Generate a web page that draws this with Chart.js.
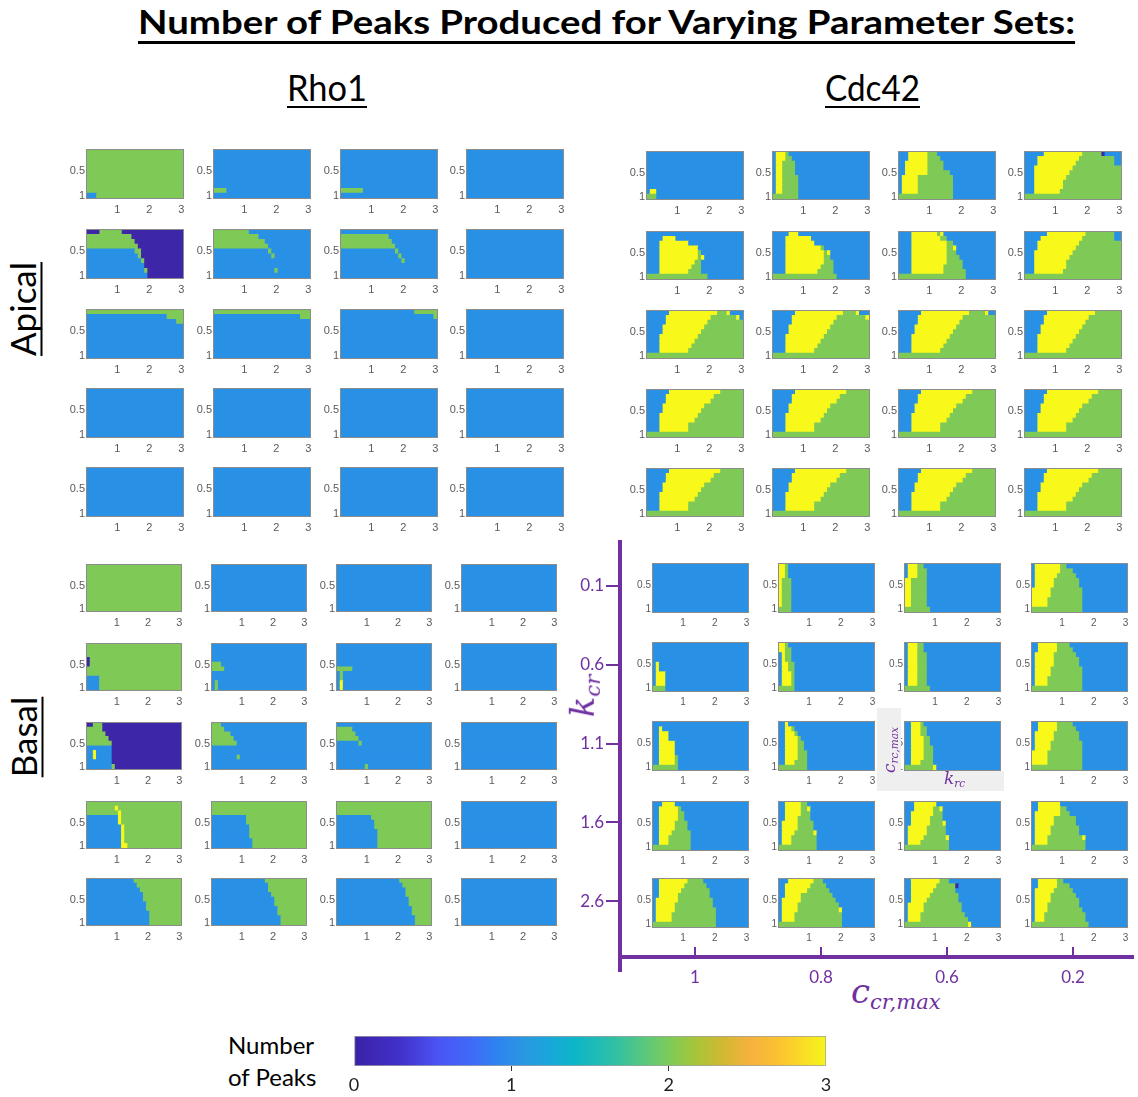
<!DOCTYPE html>
<html>
<head>
<meta charset="utf-8">
<title>Number of Peaks Produced for Varying Parameter Sets</title>
<script src="https://cdn.jsdelivr.net/npm/chart.js@4.4.1/dist/chart.umd.min.js"></script>
<style>
  html, body { margin: 0; padding: 0; background: #fff; }
  body { position: relative; width: 1138px; height: 1097px; overflow: hidden; }
  canvas { position: absolute; }
  .t { position: absolute; white-space: nowrap; line-height: 1; color: #000; font-family: Lato, sans-serif; }
  .head { font-weight: 700; font-size: 33px; text-decoration: underline; text-decoration-thickness: 3px;
          text-underline-offset: 7px; text-decoration-skip-ink: none; }
  .sub { font-size: 36px; text-decoration: underline; text-decoration-thickness: 2px;
         text-underline-offset: 5px; text-decoration-skip-ink: none; }
  .rot { transform: translate(-50%, -50%) rotate(-90deg); }
  .purple { color: #7030a0; font-family: "DejaVu Serif", serif; font-style: italic; }
  .purple sub { font-size: 62%; vertical-align: -0.3em; }
  .inset { position: absolute; background: #efefef; z-index: 2; }
</style>
</head>
<body>
<div class="t head" id="title" style="left:138px; top:5px">Number of Peaks Produced for Varying Parameter Sets:</div>
<div class="t sub" id="rho" style="left:287px; top:69px">Rho1</div>
<div class="t sub" id="cdc" style="left:825px; top:69px">Cdc42</div>
<div class="t sub rot" style="left:22px; top:309px; font-size:35px">Apical</div>
<div class="t sub rot" style="left:23px; top:737px; font-size:35px">Basal</div>

<div class="t" style="left:228px; top:1033px; font-size:24px">Number</div>
<div class="t" style="left:228px; top:1065px; font-size:24px">of Peaks</div>

<div class="t purple rot" style="left:584px; top:696px; font-size:34px; z-index:3">k<sub>cr</sub></div>
<div class="t purple" style="left:851px; top:974px; font-size:34px">c<sub>cr,max</sub></div>

<div class="inset" style="left:877px; top:708px; width:24px; height:83px"></div>
<div class="inset" style="left:877px; top:771px; width:127px; height:20px"></div>
<div class="t purple rot" style="left:890px; top:750px; font-size:17px; z-index:3">c<sub>rc,max</sub></div>
<div class="t purple" style="left:944px; top:770px; font-size:17px; z-index:3">k<sub>rc</sub></div>

<script>
// Each panel: 10 rows (k = 0.1 .. 1.0, top to bottom) x 30 columns (c = 0.1 .. 3.0).
// Rows are run-length coded: P=0, B=1, G=2, Y=3 peaks; '/' separates rows, '*n' repeats a row.
const rho1Apical = [
  'G30*9/B3G27', 'B30*8/G4B26/B30', 'B30*8/G7B23/B30', 'B30*10',
  'P4G7P19/G14P16/G15P15/G16P14/B15G2P13/B16G1P13/B17G1P12/B18P12/B18G1P11/B19P11',
  'G11B19/G14B16/G16B14/G17B13/B17G1B12/B18G1B11/B30*2/B19G1B10/B30',
  'B30/G15B15/G16B14/G17B13/B17G1B12/B18G1B11/B19G1B10/B30*3',
  'B30*10',
  'G30/B25G5/B28G2/B30*7', 'G30/B27G3/B30*8', 'B23G7/B29G1/B30*8', 'B30*10',
  'B30*10', 'B30*10', 'B30*10', 'B30*10',
  'B30*10', 'B30*10', 'B30*10', 'B30*10'
];

const rho1Basal = [
  'G30*10', 'B30*10', 'B30*10', 'B30*10',
  'G30*3/P1G29*2/G30*2/B4G26*3', 'B30*4/G3B27/G4B26/B30*2/B1G1B28*2',
  'B30*5/G5B25/B1G1B28*2/B1Y1B28*2', 'B30*10',
  'P2G3P25/G5P25/G6P24/G7P23/G8P22/B8P22/B2Y1B5P22*2/B8P22/B8G1P21',
  'G3B27/G4B26/G6B24/G7B23/G8B22/B30*2/B8G1B21/B30*2',
  'B30/G5B25/G6B24/G7B23/B7G1B22/B30*4/B9G1B20', 'B30*10',
  'G30/G9Y1G20/G10Y1G19/B10Y1G19*2/B11Y1G18*4/B11Y2G17',
  'G30*3/B11G19*2/B12G18*3/B13G17*2', 'G30*3/B11G19/B12G18*2/B13G17*4', 'B30*10',
  'B15G15/B16G14/B17G13/B18G12*2/B19G11*2/B20G10*3',
  'B17G13/B18G12*2/B19G11/B20G10*2/B21G9*2/B22G8*2',
  'B20G10/B21G9/B22G8*2/B23G7*2/B24G6*2/B25G5*2', 'B30*10'
];

const cdc42Apical = [
  'B30*8/B1Y2B27/G3B27',
  'B1Y3G1B25/B1Y3G2B24/B1Y2G4B23*3/B1Y2G5B22*4/G8B22',
  'B3Y6G3B18/B3Y6G4B17/B2Y7G5B16*2/B2Y7G7B14/B1Y5G11B13*4/G17B13',
  'B6Y12G6P1B5/B4Y13G11B2/B4Y12G12B2/B3Y12G15/B3Y11G16/B3Y10G17/B3Y9G18*2/B3Y8G19/G30',
  'B30/B5Y4B21/B4Y9B17/B4Y12B14/B4Y12G1B13/B4Y12G1Y1B12/B4Y11G2B13/B4Y10G3B13/B4Y9G4B13/G19B11',
  'B5Y3B22/B4Y8B18/B4Y9B17/B4Y11G1B14/B4Y12G1Y1B12/B4Y12G2B12/B4Y12G3B11/B4Y11G4B11/B4Y10G5B11/G20B10',
  'B4Y8G1Y1B16/B4Y9G2B15/B4Y11G2B13/B4Y11G2Y1B12/B4Y11G3B12/B4Y11G4B11/B4Y11G5B10/B4Y10G6B10/B4Y10G7B9/G21B9',
  'B7Y12G9B2/B5Y13G10B2/B4Y13G13/B4Y12G14/B3Y12G15/B3Y11G16/B3Y10G17*2/B3Y9G18/G30',
  'B7Y15G3Y1B4/B6Y14G8Y1B1/B6Y13G11/B5Y13G12/B5Y12G13/B4Y12G14/B4Y11G15/B4Y10G16/B4Y9G17/G30',
  'B7Y15G4Y1B3/B6Y14G9Y1/B6Y13G11/B5Y13G12/B5Y12G13/B4Y12G14/B4Y11G15/B4Y10G16/B4Y9G17/G30',
  'B7Y15G5Y1B2/B6Y14G10/B6Y13G11/B5Y13G12/B5Y12G13/B4Y12G14/B4Y11G15/B4Y10G16/B4Y9G17/G30',
  'B7Y15G8/B6Y14G10/B6Y13G11/B5Y13G12/B5Y12G13/B4Y12G14/B4Y11G15/B4Y10G16/B4Y9G17/G30',
  'B7Y16G7/B6Y15G9/B6Y14G10/B5Y13G12/B5Y12G13/B4Y12G14/B4Y11G15/B4Y9G17*2/G30',
  'B7Y16G7/B6Y15G9/B6Y14G10/B5Y13G12/B5Y12G13/B4Y12G14/B4Y11G15/B4Y9G17*2/G30',
  'B7Y16G7/B6Y15G9/B6Y14G10/B5Y13G12/B5Y12G13/B4Y12G14/B4Y11G15/B4Y9G17*2/G30',
  'B7Y16G7/B6Y15G9/B6Y14G10/B5Y13G12/B5Y12G13/B4Y12G14/B4Y11G15/B4Y9G17*2/G30',
  'B7Y16G7/B6Y15G9/B6Y14G10/B5Y13G12/B5Y12G13/B4Y12G14/B4Y11G15/B4Y9G17*2/G30',
  'B7Y16G7/B6Y15G9/B6Y14G10/B5Y13G12/B5Y12G13/B4Y12G14/B4Y11G15/B4Y9G17*2/G30',
  'B7Y16G7/B6Y15G9/B6Y14G10/B5Y13G12/B5Y12G13/B4Y12G14/B4Y11G15/B4Y9G17*2/G30',
  'B7Y16G7/B6Y15G9/B6Y14G10/B5Y13G12/B5Y12G13/B4Y12G14/B4Y11G15/B4Y9G17*2/G30'
];

const cdc42Basal = [
  'B30*10',
  'Y2G1B27*3/Y1G3B26*6/G4B26',
  'B1Y3G2B24/B1Y3G3B23*2/Y2G5B23*6/G8B22',
  'B1Y8G2B19/B1Y8G4B17/B1Y7G6B16/B1Y6G8B15*2/Y6G10B14*2/Y5G11B14*2/G16B14',
  'B30*4/B1Y1B28*2/B1Y3B26*3/G4B26',
  'Y2G1B27/Y2G2B26/B1Y1G2B26*2/B1Y2G2B25*2/B1Y3G1B25*3/G5B25',
  'B1Y3G2B24*2/B1Y3G3B23*7/G8B22',
  'B2Y6G4B18/B2Y6G5B17/B1Y6G7B16/B1Y6G8B15*2/B1Y5G10B14*2/B1Y4G11B14*2/G16B14',
  'B30/B2Y1B27/B2Y3B25*2/B2Y5B23*3/B2Y5G1B22*2/G8B22',
  'B2Y1B27/B2Y2G1B25/B2Y3G1B24/B2Y4G1B23/B2Y4G2B22*2/B2Y4G3B21*2/B2Y3G4B21/G9B21',
  'B2Y3G1B24/B2Y3G2B23*2/B2Y4G2B22*2/B2Y4G3B21*3/B2Y3G4B21/G9Y1B20',
  'B2Y6G5B17/B2Y6G6B16/B1Y6G8B15*2/B1Y5G10B14*2/Y5G11B14*3/G16B14',
  'B3Y4B23/B2Y6G1B21/B2Y6G2B20*2/B2Y5G4B19*2/B2Y4G6B18/B2Y3G7B18*2/G12B18',
  'B2Y5G2B21/B2Y5G2Y1B20/B2Y5G3B20/B2Y4G4B20/B1Y5G5B19*2/B1Y4G6Y1B18/B1Y3G8B18*2/G12B18',
  'B3Y7B20/B3Y6G2Y1B18/B2Y7G3B18/B2Y6G4B18/B2Y6G4Y1B17/B1Y6G6B17*2/B1Y5G7Y1B16/B1Y4G9B16/G14B16',
  'B2Y7B21/B2Y7G2B19/B1Y8G3B18/B1Y6G7B16*2/B1Y5G9B15*2/B1Y4G11Y1B13/B1Y4G12B13/G17B13',
  'B2Y9G5B14/B2Y8G7B13/B2Y7G9B12/B2Y6G10B12/B1Y7G11B11/B1Y6G12B11/B1Y6G13B10/B1Y5G14B10*2/G20B10',
  'B3Y8G3B16/B2Y8G5B15/B2Y7G7B14/B2Y5G10B13/B1Y6G11B12/B1Y5G13B11/B1Y5G13Y1B10/B1Y4G15B10*2/G20B10',
  'B2Y9G3B16/B2Y8G6P1B13/B2Y7G7B14/B2Y6G9B13/B2Y5G10B13/B1Y5G12B12*2/B1Y4G14B11/B1Y4G15B10/G20Y1B9',
  'B2Y6G2B20/B2Y6G4B18/B1Y6G6B17/B1Y5G8B16/B1Y5G9B15/B1Y4G10B15/B1Y4G11B14/B1Y3G13B13*2/G18B12'
];

const kValues = [0.1, 0.2, 0.3, 0.4, 0.5, 0.6, 0.7, 0.8, 0.9, 1.0];
const cStep = 0.1;
const panelXTicks = [1, 2, 3];
const panelYTicks = [0.5, 1];
const kcrLabels = ['0.1', '0.6', '1.1', '1.6', '2.6'];
const ccrLabels = ['1', '0.8', '0.6', '0.2'];
const peakTicks = [0, 1, 2, 3];

const PEAK_COLORS = { P: '#3e26a8', B: '#2891e6', G: '#7fca57', Y: '#f8f91a' };
const PURPLE = '#7030a0';
const BAR_STOPS = [
  [0, '#3a21a6'], [0.1, '#4232cc'], [0.18, '#4a55f5'], [0.25, '#3f6af8'], [0.3, '#2f82f0'],
  [0.36, '#2a97e2'], [0.42, '#17a9d8'], [0.47, '#0db6c8'], [0.55, '#2fc0a6'], [0.62, '#5cc87a'],
  [0.66, '#78cb5e'], [0.72, '#a3c63a'], [0.78, '#d0b932'], [0.84, '#f6b13e'], [0.9, '#fcc232'],
  [1, '#f6f51a']
];

Chart.defaults.font.family = '"Liberation Sans", Arial, sans-serif';
Chart.defaults.animation = false;
Chart.defaults.responsive = false;
Chart.defaults.plugins.legend.display = false;
Chart.defaults.plugins.tooltip.enabled = false;

function parseGrid(str) {
  const rows = [];
  str.split('/').forEach(function (tok) {
    const parts = tok.split('*');
    const rep = parts[1] ? +parts[1] : 1;
    for (let i = 0; i < rep; i++) rows.push(parts[0]);
  });
  return rows.map(function (r) {
    const runs = [];
    r.replace(/([PBGY])(\d+)/g, function (m, v, n) { runs.push([v, +n]); });
    return runs;
  });
}

function panelData(str) {
  const points = [], colors = [];
  parseGrid(str).forEach(function (runs, r) {
    let c = 0;
    runs.forEach(function (run) {
      points.push({ y: kValues[r], x: [(c + 0.5) * cStep, (c + run[1] + 0.5) * cStep] });
      colors.push(PEAK_COLORS[run[0]]);
      c += run[1];
    });
  });
  return { points: points, colors: colors };
}

const frame = {
  id: 'frame',
  afterDatasetsDraw(chart) {
    const a = chart.chartArea, ctx = chart.ctx;
    ctx.save();
    ctx.strokeStyle = '#8c8c8c';
    ctx.lineWidth = 1;
    ctx.strokeRect(Math.round(a.left) - 0.5, Math.round(a.top) - 0.5,
      Math.round(a.right - a.left) + 1, Math.round(a.bottom - a.top) + 1);
    ctx.restore();
  }
};

function addCanvas(left, top, width, height) {
  const cv = document.createElement('canvas');
  cv.width = width;
  cv.height = height;
  cv.style.left = left + 'px';
  cv.style.top = top + 'px';
  document.body.appendChild(cv);
  return cv;
}

function makePanel(str, left, top, w, h, fontSize) {
  const padL = 26, padT = 3, padR = 8, padB = 19;
  const cv = addCanvas(left - padL, top - padT, w + padL + padR, h + padT + padB);
  const d = panelData(str);
  return new Chart(cv, {
    type: 'bar',
    data: {
      datasets: [{
        data: d.points,
        backgroundColor: d.colors,
        borderWidth: 0,
        barPercentage: 1,
        categoryPercentage: 1,
        grouped: false,
        inflateAmount: 0.4
      }]
    },
    options: {
      indexAxis: 'y',
      layout: { padding: { top: padT, right: padR, left: 0, bottom: 0 } },
      scales: {
        x: {
          type: 'linear', min: 0.5 * cStep, max: 3 + 0.5 * cStep,
          grid: { display: false, drawTicks: false }, border: { display: false },
          afterBuildTicks: function (s) { s.ticks = panelXTicks.map(function (v) { return { value: v }; }); },
          afterFit: function (s) { s.height = padB; },
          ticks: { color: '#5a5a5a', font: { size: fontSize }, padding: 5, maxRotation: 0, autoSkip: false,
                   callback: function (v) { return String(v); } }
        },
        y: {
          type: 'linear', reverse: true, offset: false, min: 0.05, max: 1.05,
          grid: { display: false, drawTicks: false }, border: { display: false },
          afterBuildTicks: function (s) { s.ticks = panelYTicks.map(function (v) { return { value: v }; }); },
          afterFit: function (s) { s.width = padL; },
          ticks: { color: '#5a5a5a', font: { size: fontSize }, padding: 2, autoSkip: false,
                   callback: function (v) { return String(v); } }
        }
      }
    },
    plugins: [frame]
  });
}

const groups = [
  { grids: rho1Apical, lefts: [87, 214, 341, 467], tops: [144, 224, 304, 383, 462], w: 96, h: 54, font: 11 },
  { grids: rho1Basal, lefts: [87, 212, 337, 462], tops: [559, 638, 717, 796, 873], w: 94, h: 52, font: 11 },
  { grids: cdc42Apical, lefts: [647, 773, 899, 1025], tops: [146, 226, 305, 384, 463], w: 96, h: 53, font: 11 },
  { grids: cdc42Basal, lefts: [653, 779, 905, 1032], tops: [559, 638, 717, 797, 874], w: 95, h: 53, font: 10 }
];

groups.forEach(function (g) {
  g.grids.forEach(function (str, i) {
    const row = Math.floor(i / 4), col = i % 4;
    makePanel(str, g.lefts[col], g.tops[row], g.w, g.h, g.font);
  });
});

// purple parameter axes for the Cdc42 basal block
const axesCanvas = addCanvas(560, 530, 578, 480);
new Chart(axesCanvas, {
  type: 'scatter',
  data: { datasets: [] },
  options: {
    layout: { padding: { top: 10, right: 5, bottom: 39, left: 0 } },
    scales: {
      x: {
        type: 'linear', min: -0.595, max: 3.476, position: { y: 4.706 },
        afterBuildTicks: function (s) { s.ticks = ccrLabels.map(function (_, i) { return { value: i }; }); },
        afterFit: function (s) { s.height = 0; },
        grid: { drawOnChartArea: false, color: PURPLE, lineWidth: 2, tickLength: -12 },
        border: { color: PURPLE, width: 4 },
        ticks: { color: PURPLE, font: { size: 17, family: 'Lato' }, padding: 22, autoSkip: false, maxRotation: 0,
                 callback: function (v) { return ccrLabels[v]; } }
      },
      y: {
        type: 'linear', reverse: true, min: -0.556, max: 4.886,
        afterBuildTicks: function (s) { s.ticks = kcrLabels.map(function (_, i) { return { value: i }; }); },
        afterFit: function (s) { s.width = 60; },
        grid: { drawOnChartArea: false, color: PURPLE, lineWidth: 2, tickLength: 14 },
        border: { color: PURPLE, width: 4 },
        ticks: { color: PURPLE, font: { size: 17, family: 'Lato' }, padding: 2, autoSkip: false,
                 callback: function (v) { return kcrLabels[v]; } }
      }
    }
  }
});

// colour bar
function barGradient(chart) {
  const a = chart.chartArea;
  if (!a) return '#2891e6';
  const g = chart.ctx.createLinearGradient(a.left, 0, a.right, 0);
  BAR_STOPS.forEach(function (s) { g.addColorStop(s[0], s[1]); });
  return g;
}

const barCanvas = addCanvas(330, 1028, 520, 69);
new Chart(barCanvas, {
  type: 'bar',
  data: {
    labels: [''],
    datasets: [{
      data: [[peakTicks[0], peakTicks[peakTicks.length - 1]]],
      backgroundColor: function (ctx) { return barGradient(ctx.chart); },
      borderColor: '#a0a0a0',
      borderWidth: 1,
      borderSkipped: false,
      barPercentage: 1,
      categoryPercentage: 1
    }]
  },
  options: {
    indexAxis: 'y',
    layout: { padding: { top: 8, left: 24, right: 24, bottom: 0 } },
    scales: {
      x: {
        type: 'linear', min: peakTicks[0], max: peakTicks[peakTicks.length - 1],
        afterBuildTicks: function (s) { s.ticks = peakTicks.map(function (v) { return { value: v }; }); },
        afterFit: function (s) { s.height = 31; },
        grid: {
          drawOnChartArea: false, tickLength: 5, lineWidth: 1,
          color: function (ctx) {
            const v = ctx.tick ? ctx.tick.value : -1;
            return (v === peakTicks[0] || v === peakTicks[peakTicks.length - 1]) ? 'rgba(0,0,0,0)' : '#333';
          }
        },
        border: { display: false },
        ticks: { color: '#222', font: { size: 18, family: 'Lato' }, padding: 3, autoSkip: false, maxRotation: 0 }
      },
      y: { display: false }
    }
  }
});

// stretch headings to the measured widths of the original
function fitWidth(id, width) {
  const el = document.getElementById(id);
  const w = el.getBoundingClientRect().width;
  el.style.transformOrigin = '0 0';
  el.style.transform = 'scaleX(' + (width / w).toFixed(3) + ')';
}
fitWidth('title', 937);
fitWidth('rho', 80);
fitWidth('cdc', 95);
</script>
</body>
</html>
